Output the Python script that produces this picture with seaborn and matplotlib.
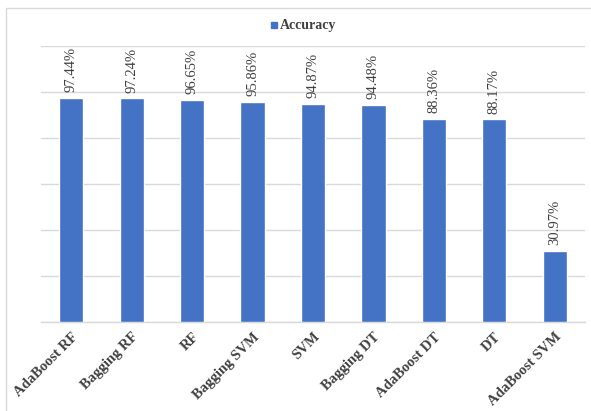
import matplotlib
matplotlib.use("Agg")
import matplotlib.pyplot as plt
import seaborn as sns
import pandas as pd
from matplotlib.patches import Rectangle

# Model accuracies (%)
models = ["AdaBoost RF", "Bagging RF", "RF", "Bagging SVM", "SVM",
          "Bagging DT", "AdaBoost DT", "DT", "AdaBoost SVM"]
accuracy = [97.44, 97.24, 96.65, 95.86, 94.87, 94.48, 88.36, 88.17, 30.97]
series_name = "Accuracy"

df = pd.DataFrame({"Model": models, "Accuracy": accuracy})

sns.set_theme(style="white")
plt.rcParams["font.family"] = ["Liberation Serif", "DejaVu Serif"]

W, H = 591, 411
fig = plt.figure(figsize=(W / 100, H / 100), dpi=100)
ax = fig.add_axes([41 / W, 1 - 322 / H, (585 - 41) / W, (322 - 46) / H])

bar_color = "#4472C4"
text_color = "#404040"

sns.barplot(data=df, x="Model", y="Accuracy", color=bar_color, width=0.4,
            saturation=1, ax=ax, zorder=3)

ax.set_ylim(0, 120)
ax.set_xlim(-0.5, len(models) - 0.5)
ax.set_yticks(range(0, 121, 20))
ax.yaxis.grid(True, color="#d9d9d9", linewidth=1.0, zorder=0)
ax.set_yticklabels([])
ax.tick_params(axis="both", length=0)
for s in ["top", "right", "left"]:
    ax.spines[s].set_visible(False)
ax.spines["bottom"].set_color("#d9d9d9")
ax.spines["bottom"].set_linewidth(1.0)
ax.set_xlabel("")
ax.set_ylabel("")

ax.set_xticks(range(len(models)))
ax.set_xticklabels(models, rotation=45, ha="right", rotation_mode="anchor",
                   fontsize=10.5, fontweight="bold", color=text_color)
ax.tick_params(axis="x", pad=6)

# Value labels above each bar
for i, v in enumerate(accuracy):
    ax.annotate(f"{v:.2f}%", xy=(i, v), xytext=(0, 4), textcoords="offset points",
                rotation=90, ha="center", va="bottom", fontsize=10.5,
                color=text_color, annotation_clip=False)

# Legend
fig.patches.append(Rectangle((270.5 / W, 1 - 28.5 / H), 6.5 / W, 6.5 / H,
                             transform=fig.transFigure, color=bar_color))
fig.text(280 / W, 1 - 25.5 / H, series_name, fontsize=10, fontweight="bold",
         color=text_color, ha="left", va="center")

# Chart frame
fig.patches.append(Rectangle((6 / W, -0.05), 1.0, 1 - 8 / H + 0.05,
                             transform=fig.transFigure, fill=False,
                             edgecolor="#d9d9d9", linewidth=1.0))

fig.savefig("out.png", dpi=100)
